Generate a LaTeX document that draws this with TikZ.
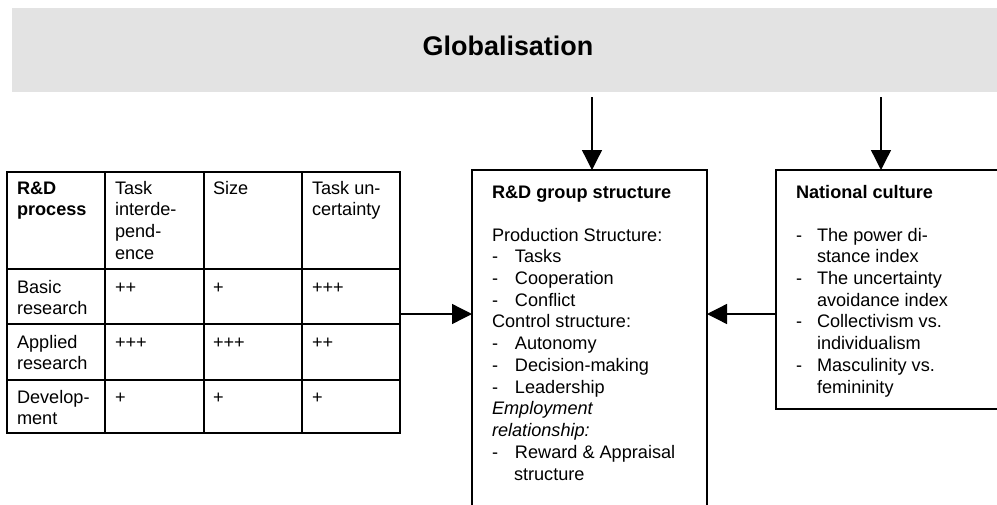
\documentclass[tikz,border=0pt]{standalone}
\usepackage{fontspec}
\setmainfont{Liberation Sans}
\newcommand*{\bodyfont}{\fontsize{13.6}{16.3}\selectfont}
\newcommand*{\titlefont}{\bfseries\fontsize{20.2}{24}\selectfont}
\newcommand*{\itm}[2]{\makebox[#1][l]{-}#2}
\definecolor{G}{cmyk}{0.00,0.00,0.00,0.125}
\usetikzlibrary{arrows.meta}
\usetikzlibrary{positioning}
\tikzstyle{frame}=[draw, line width=1pt, inner sep=0pt, outer sep=0pt, anchor=north west]
\tikzstyle{txt}=[inner sep=0pt, outer sep=0pt, anchor=base west]
\tikzstyle{arr}=[line width=1pt, -{Triangle[length=15pt,width=15pt]}]
\tikzstyle{grid}=[line width=1.5pt]

\begin{document}
\begin{tikzpicture}[x=0.75pt, y=-0.75pt]
    \bodyfont
        \useasboundingbox (0,0) rectangle (997,504);
        \clip (0,0) rectangle (997,504);
        \node [fill=G, inner sep=0pt, anchor=north west, minimum width=741pt, minimum height=63pt] (band) at (12,8) {};
        \node [anchor=base, inner sep=0pt, font=\titlefont] (glob) at (508,55) {Globalisation};
        % table
        \node [frame, grid, minimum width=294.75pt, minimum height=195.75pt] (table) at (7,172) {};
        \foreach \x in {105,204,302} \draw [grid] (\x,172) -- (\x,433);
        \foreach \y in {269,324,380} \draw [grid] (7,\y) -- (400,\y);
        \node [txt] (h1) at (17,194) {\begin{tabular}[t]{@{}l@{}}\bfseries R\&D\\ \bfseries process\end{tabular}};
        \node [txt] (h2) at (115,194) {\begin{tabular}[t]{@{}l@{}}Task\\ interde-\\ pend-\\ ence\end{tabular}};
        \node [txt] (h3) at (213,194) {Size};
        \node [txt] (h4) at (312,194) {\begin{tabular}[t]{@{}l@{}}Task un-\\ certainty\end{tabular}};
        \node [txt] (r1) at (17,293) {\begin{tabular}[t]{@{}l@{}}Basic\\ research\end{tabular}};
        \node [txt] (r2) at (17,348) {\begin{tabular}[t]{@{}l@{}}Applied\\ research\end{tabular}};
        \node [txt] (r3) at (17,403) {\begin{tabular}[t]{@{}l@{}}Develop-\\ ment\end{tabular}};
        \node [txt] (r1a) at (115,293) {++};
        \node [txt] (r1b) at (213,293) {+};
        \node [txt] (r1c) at (312,293) {+++};
        \node [txt] (r2a) at (115,348) {+++};
        \node [txt] (r2b) at (213,348) {+++};
        \node [txt] (r2c) at (312,348) {++};
        \node [txt] (r3a) at (115,403) {+};
        \node [txt] (r3b) at (213,403) {+};
        \node [txt] (r3c) at (312,403) {+};
        % group structure
        \node [frame, minimum width=176.25pt, minimum height=262.5pt] (grp) at (472,170) {};
        \node [txt] (grptitle) at (492,198) {\bfseries R\&D group structure};
        \node [txt] (grplist) at (492,241) {\begin{tabular}[t]{@{}l@{}}
            Production Structure:\\
            \itm{17.25pt}{Tasks}\\
            \itm{17.25pt}{Cooperation}\\
            \itm{17.25pt}{Conflict}\\
            Control structure:\\
            \itm{17.25pt}{Autonomy}\\
            \itm{17.25pt}{Decision-making}\\
            \itm{17.25pt}{Leadership}\\
            \itshape Employment\\
            \itshape relationship:\\
            \itm{17.25pt}{Reward \& Appraisal}\\
            \hspace*{16.5pt}structure
        \end{tabular}};
        % national culture
        \node [frame, minimum width=180pt, minimum height=179.25pt] (nat) at (776,170) {};
        \node [txt] (nattitle) at (796,198) {\bfseries National culture};
        \node [txt] (natlist) at (796,241) {\begin{tabular}[t]{@{}l@{}}
            \itm{15.75pt}{The power di-}\\
            \hspace*{15.75pt}stance index\\
            \itm{15.75pt}{The uncertainty}\\
            \hspace*{15.75pt}avoidance index\\
            \itm{15.75pt}{Collectivism vs.}\\
            \hspace*{15.75pt}individualism\\
            \itm{15.75pt}{Masculinity vs.}\\
            \hspace*{15.75pt}femininity
        \end{tabular}};
        % connectors
        \coordinate (g1) at (592,97);
        \coordinate (n1) at (881,97);
        \coordinate (mid) at (0,314);
        \draw [arr] (g1) -- (g1 |- grp.north);
        \draw [arr] (n1) -- (n1 |- nat.north);
        \draw [arr] (table.east |- mid) -- (grp.west |- mid);
        \draw [arr] (nat.west |- mid) -- (grp.east |- mid);
    \end{tikzpicture}
\end{document}
